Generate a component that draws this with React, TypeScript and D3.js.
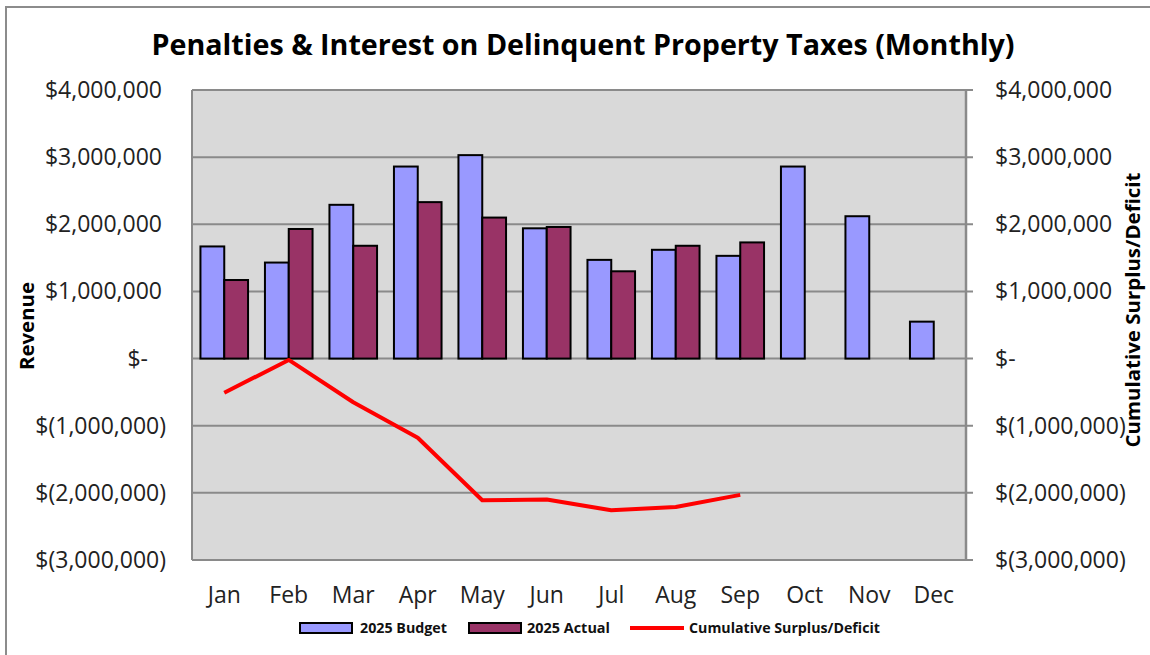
import React from "react";
import * as d3 from "d3";

const months = ["Jan", "Feb", "Mar", "Apr", "May", "Jun", "Jul", "Aug", "Sep", "Oct", "Nov", "Dec"];
const budget2025 = [1670000, 1430000, 2290000, 2860000, 3030000, 1940000, 1470000, 1620000, 1530000, 2860000, 2120000, 550000];
const actual2025: (number | null)[] = [1170000, 1930000, 1680000, 2330000, 2100000, 1960000, 1300000, 1680000, 1730000, null, null, null];
const cumulative = [-510000, -20000, -650000, -1180000, -2110000, -2100000, -2260000, -2210000, -2030000];
const yTicks = [4000000, 3000000, 2000000, 1000000, 0, -1000000, -2000000, -3000000];

const title = "Penalties & Interest on Delinquent Property Taxes (Monthly)";
const leftTitle = "Revenue";
const rightTitle = "Cumulative Surplus/Deficit";
const legendItems = ["2025 Budget", "2025 Actual", "Cumulative Surplus/Deficit"];

const W = 1150, H = 655;
const plot = { left: 192, right: 966, top: 90, bottom: 560 };
const FONT = "'Open Sans', 'Noto Sans', sans-serif";
const BUDGET_FILL = "#9999FF";
const ACTUAL_FILL = "#993366";
const GRID = "#8a8a8a";

function fmt(v: number) {
  if (v === 0) return "$-";
  const s = d3.format(",")(Math.abs(v));
  return v < 0 ? `$(${s})` : `$${s}`;
}

export default function App() {
  const x0 = d3.scaleBand<string>().domain(months).range([plot.left, plot.right]).padding(0);
  const bw = x0.bandwidth();
  const gw = bw * 0.738;
  const x1 = d3.scaleBand<string>().domain(["budget", "actual"]).range([(bw - gw) / 2, (bw + gw) / 2]).padding(0);
  const y = d3.scaleLinear().domain([-3000000, 4000000]).range([plot.bottom, plot.top]);
  const cx = (m: string) => (x0(m) as number) + bw / 2;

  const line = d3
    .line<number>()
    .x((_, i) => cx(months[i]))
    .y((d) => y(d));

  return (
    <svg width={W} height={H} style={{ display: "block", position: "absolute", left: 0, top: 0 }}>
      <rect x={0} y={0} width={W} height={H} fill="#fff" />
      <rect x={6} y={7} width={W + 20} height={H + 20} fill="none" stroke="#8c8c8c" strokeWidth={2} />

      {/* title */}
      <text x={583} y={55} textAnchor="middle" fontFamily={FONT} fontWeight="bold" fontSize={28} textLength={863} lengthAdjust="spacingAndGlyphs" fill="#000">
        {title}
      </text>

      {/* plot background */}
      <rect x={plot.left} y={plot.top} width={plot.right - plot.left} height={plot.bottom - plot.top} fill="#d9d9d9" />

      {/* gridlines */}
      {yTicks.map((t) => (
        <line key={"g" + t} x1={plot.left} x2={plot.right + 7} y1={y(t)} y2={y(t)} stroke={GRID} strokeWidth={2} />
      ))}
      {/* axes */}
      <line x1={plot.left} x2={plot.left} y1={plot.top} y2={plot.bottom} stroke={GRID} strokeWidth={2} />
      <line x1={plot.right} x2={plot.right} y1={plot.top - 1} y2={plot.bottom + 1} stroke={GRID} strokeWidth={2.5} />

      {/* bars */}
      {months.map((m, i) => (
        <g key={"b" + m} transform={`translate(${x0(m)},0)`}>
          <rect
            x={x1("budget")}
            y={y(budget2025[i])}
            width={x1.bandwidth()}
            height={y(0) - y(budget2025[i])}
            fill={BUDGET_FILL}
            stroke="#000"
            strokeWidth={2}
          />
          {actual2025[i] != null && (
            <rect
              x={x1("actual")}
              y={y(actual2025[i] as number)}
              width={x1.bandwidth()}
              height={y(0) - y(actual2025[i] as number)}
              fill={ACTUAL_FILL}
              stroke="#000"
              strokeWidth={2}
            />
          )}
        </g>
      ))}

      {/* cumulative line */}
      <path d={line(cumulative) || ""} fill="none" stroke="#ff0000" strokeWidth={4} strokeLinejoin="round" />

      {/* left tick labels */}
      {yTicks.map((t) => (
        <text
          key={"l" + t}
          x={t > 0 ? 162 : t < 0 ? 166 : 148}
          y={y(t)}
          dy="0.35em"
          textAnchor="end"
          fontFamily={FONT}
          fontSize={23}
          fill="#222"
        >
          {fmt(t)}
        </text>
      ))}
      {/* right tick labels */}
      {yTicks.map((t) => (
        <text key={"r" + t} x={995} y={y(t)} dy="0.35em" textAnchor="start" fontFamily={FONT} fontSize={23} fill="#222">
          {fmt(t)}
        </text>
      ))}

      {/* month labels */}
      {months.map((m) => (
        <text key={"m" + m} x={cx(m)} y={603} textAnchor="middle" fontFamily={FONT} fontSize={23} fill="#222">
          {m}
        </text>
      ))}

      {/* axis titles */}
      <text
        transform={`translate(34,326) rotate(-90)`}
        textAnchor="middle"
        fontFamily={FONT}
        fontWeight="bold"
        fontSize={20}
        textLength={88}
        lengthAdjust="spacingAndGlyphs"
      >
        {leftTitle}
      </text>
      <text
        transform={`translate(1140,310) rotate(-90)`}
        textAnchor="middle"
        fontFamily={FONT}
        fontWeight="bold"
        fontSize={19}
        textLength={275}
        lengthAdjust="spacingAndGlyphs"
      >
        {rightTitle}
      </text>

      {/* legend */}
      <rect x={300} y={623} width={52} height={10} fill={BUDGET_FILL} stroke="#000" strokeWidth={2} />
      <text x={360} y={633} fontFamily={FONT} fontWeight="bold" fontSize={14} textLength={87} lengthAdjust="spacingAndGlyphs" fill="#111">
        {legendItems[0]}
      </text>
      <rect x={469} y={623} width={52} height={10} fill={ACTUAL_FILL} stroke="#000" strokeWidth={2} />
      <text x={527} y={633} fontFamily={FONT} fontWeight="bold" fontSize={14} textLength={83} lengthAdjust="spacingAndGlyphs" fill="#111">
        {legendItems[1]}
      </text>
      <line x1={630} x2={684} y1={628} y2={628} stroke="#ff0000" strokeWidth={4} />
      <text x={689} y={633} fontFamily={FONT} fontWeight="bold" fontSize={14} textLength={191} lengthAdjust="spacingAndGlyphs" fill="#111">
        {legendItems[2]}
      </text>
    </svg>
  );
}
